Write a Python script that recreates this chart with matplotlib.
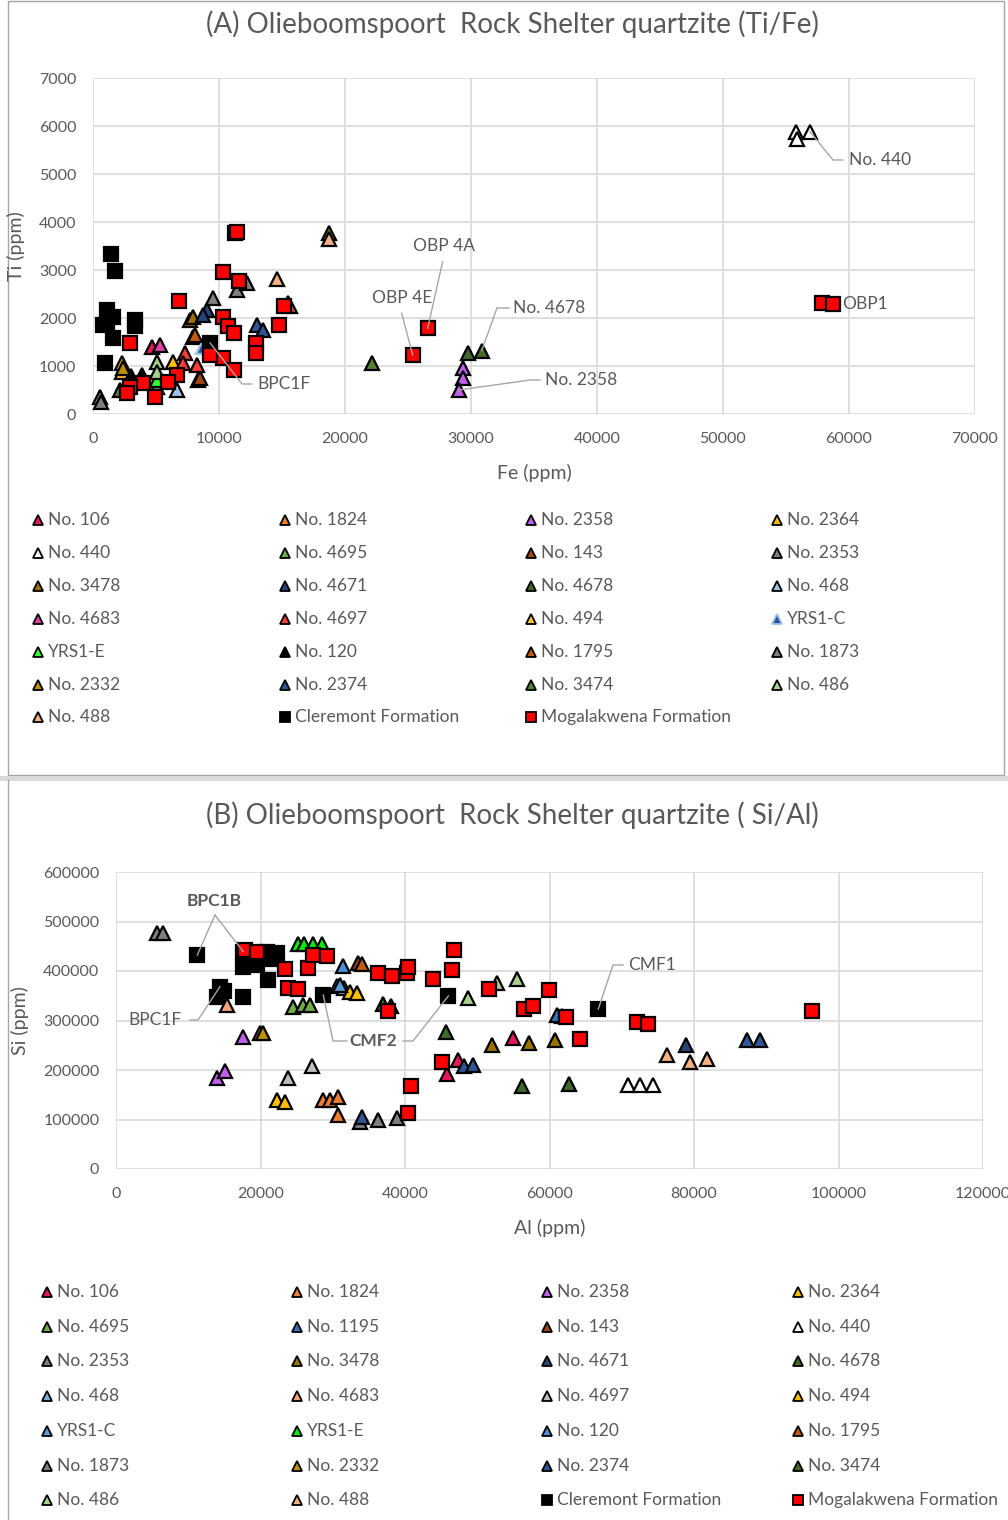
import matplotlib.pyplot as plt
from matplotlib.patches import Rectangle

plt.rcParams['font.family'] = ['Lato', 'DejaVu Sans']

# ---------------------------------------------------------------
# (A) Ti vs Fe, ppm
# ---------------------------------------------------------------
a_names = ["No. 106", "No. 1824", "No. 2358", "No. 2364", "No. 440", "No. 4695",
           "No. 143", "No. 2353", "No. 3478", "No. 4671", "No. 4678", "No. 468",
           "No. 4683", "No. 4697", "No. 494", "YRS1-C", "YRS1-E", "No. 120",
           "No. 1795", "No. 1873", "No. 2332", "No. 2374", "No. 3474", "No. 486",
           "No. 488", "Cleremont Formation", "Mogalakwena Formation"]

a_fe = [[4650], [7960, 15500], [29340, 29340, 29020], [6370, 2270],
        [55770, 55850, 56900], [5050], [8360, 8500], [555, 600],
        [7700, 7960, 18750], [9020, 8760], [29790, 30850], [6640],
        [5320], [7300, 7170, 8230], [2270], [8760], [5050], [3860, 3000],
        [8100, 15600], [9550, 11400, 12200], [2400], [12990, 13520],
        [22110, 2140], [5050, 5050], [18750, 14580],
        [1430, 1750, 1090, 1600, 800, 1100, 1590, 3330, 3330, 950, 9290],
        [11270, 11450, 10340, 11590, 6850, 15190, 10340, 10690, 11190, 14760,
         12940, 12940, 10340, 9290, 11220, 2940, 6640, 3990, 2940, 2670, 4920,
         5950, 25370, 26560, 57830, 58700]]

a_ti = [[1403], [1611, 2306], [951, 743, 500], [1090, 1056],
        [5882, 5722, 5882], [569], [708, 760], [361, 257],
        [1958, 2028, 3780], [2167, 2063], [1278, 1319], [500],
        [1438], [1264, 1056, 1021], [882], [1403], [708], [810, 790],
        [1650, 2250], [2410, 2583, 2722], [950], [1854, 1750],
        [1056, 500], [1090, 882], [3650, 2806],
        [3333, 2985, 2170, 2030, 1850, 1880, 1580, 1950, 1830, 1060, 1480],
        [3764, 3800, 2965, 2771, 2361, 2250, 2028, 1833, 1680, 1854,
         1472, 1264, 1160, 1229, 917, 1486, 813, 653, 556, 431, 347,
         674, 1229, 1785, 2306, 2292]]

# ---------------------------------------------------------------
# (B) Si vs Al, ppm
# ---------------------------------------------------------------
b_names = ["No. 106", "No. 1824", "No. 2358", "No. 2364", "No. 4695", "No. 1195",
           "No. 143", "No. 440", "No. 2353", "No. 3478", "No. 4671", "No. 4678",
           "No. 468", "No. 4683", "No. 4697", "No. 494", "YRS1-C", "YRS1-E",
           "No. 120", "No. 1795", "No. 1873", "No. 2332", "No. 2374", "No. 3474",
           "No. 486", "No. 488", "Cleremont Formation", "Mogalakwena Formation"]

b_al = [[47380, 45860, 54990], [28690, 29610, 30770, 30770],
        [17620, 13930, 15090], [22240, 23390], [24540, 25920, 26840],
        [61690, 61000], [33540], [70900, 72530, 74370], [5630, 6550],
        [52080, 57160, 60760], [78890], [45670, 56150, 62740],
        [30540, 31500], [15320], [23850, 27080], [32390, 33310], [31000],
        [25230, 25990, 27310, 28460], [31370], [34000],
        [33770, 36310, 38840], [19930, 20400],
        [48170, 49460, 87290, 89130, 34010], [37000, 38000],
        [48780, 55540, 52700], [76220, 79450, 81760],
        [11250, 17620, 20850, 22240, 17620, 19470, 21080, 14390, 13930,
         17620, 28690, 46000, 66750, 19000, 21500, 18500, 15000],
        [17850, 19470, 23390, 26620, 23850, 25230, 27310, 29160, 36310,
         38150, 40220, 40450, 43910, 46450, 46780, 37680, 45070, 40770,
         40360, 51670, 56460, 57750, 59960, 62280, 64220, 72070, 73670,
         96290]]

b_si = [[220200, 191900, 264000], [139400, 139400, 146100, 109100],
        [267300, 183200, 198600], [139400, 136000], [327900, 331300, 331300],
        [309700, 311000], [416800], [169700, 169700, 169700], [476200, 477400],
        [250500, 253900, 260600], [250500], [277400, 168300, 171700],
        [369700, 366000], [331300], [183200, 208100], [358200, 354900], [372000],
        [454500, 455000, 454500, 454000], [410100], [414000],
        [95600, 99000, 102400], [274700, 275500],
        [208100, 210100, 260600, 260600, 105700], [333300, 330000],
        [344800, 383800, 375100], [230300, 216800, 221600],
        [432300, 439000, 439000, 435700, 408700, 412100, 381800, 368300, 348100,
         348100, 351500, 349500, 323200, 425000, 425000, 420000, 360000],
        [442400, 439000, 403400, 406700, 365000, 363000, 432300, 430300, 395300,
         389900, 395300, 408700, 383200, 402000, 442400, 318800, 215600, 167700,
         113700, 363600, 323200, 329300, 361600, 307700, 262600, 297600, 292900,
         319200]]

# marker face colours for each panel
a_colors = {"No. 106": "#E8175D", "No. 1824": "#ED7D31", "No. 2358": "#BF5FEA",
            "No. 2364": "#FFC000", "No. 440": "white", "No. 4695": "#70AD47",
            "No. 143": "#9E480E", "No. 2353": "#7F7F7F", "No. 3478": "#997300",
            "No. 4671": "#264478", "No. 4678": "#43682B", "No. 468": "#9DC3E6",
            "No. 4683": "#E040A8", "No. 4697": "#FF3B3B", "No. 494": "#FFC23A",
            "YRS1-C": "#2F5597", "YRS1-E": "#33FF33", "No. 120": "black",
            "No. 1795": "#C55A11", "No. 1873": "#808080", "No. 2332": "#BF9000",
            "No. 2374": "#2F5597", "No. 3474": "#548235", "No. 486": "#A9D18E",
            "No. 488": "#F4B183", "Cleremont Formation": "black",
            "Mogalakwena Formation": "#FF0000"}
b_colors = {"No. 106": "#E8175D", "No. 1824": "#ED7D31", "No. 2358": "#BF5FEA",
            "No. 2364": "#FFC000", "No. 4695": "#70AD47", "No. 1195": "#2E75B6",
            "No. 143": "#9E480E", "No. 440": "white", "No. 2353": "#7F7F7F",
            "No. 3478": "#997300", "No. 4671": "#264478", "No. 4678": "#43682B",
            "No. 468": "#7CAFDD", "No. 4683": "#F4A27A", "No. 4697": "#BFBFBF",
            "No. 494": "#FFC000", "YRS1-C": "#5B9BD5", "YRS1-E": "#00EE00",
            "No. 120": "#4A90D9", "No. 1795": "#C55A11", "No. 1873": "#7F7F7F",
            "No. 2332": "#BF9000", "No. 2374": "#2F5597", "No. 3474": "#43682B",
            "No. 486": "#A9D18E", "No. 488": "#F4B183", "Cleremont Formation": "black",
            "Mogalakwena Formation": "#FF0000"}
edge_override = {"A": {"YRS1-C": "#9DC3E6"}, "B": {}}

TXT = "#595959"
GRID = "#D9D9D9"
W, H = 1008, 1520

fig = plt.figure(figsize=(W / 100, H / 100), dpi=100)

# background layer in pixel coordinates (frames, legends)
deco = fig.add_axes([0, 0, 1, 1], zorder=-1)
deco.set_xlim(0, W)
deco.set_ylim(H, 0)
deco.axis("off")
deco.add_patch(Rectangle((8, 1), 996, 774, fill=False, ec="#A6A6A6", lw=1))
deco.plot([0, W], [778, 778], color="#D9D9D9", lw=3.5)
deco.plot([8, 8], [780, H], color="#A6A6A6", lw=1)


def pix_axes(x0, y0, x1, y1):
    return fig.add_axes([x0 / W, 1 - y1 / H, (x1 - x0) / W, (y1 - y0) / H])


def style(ax):
    for s in ax.spines.values():
        s.set_visible(False)
    ax.set_axisbelow(True)
    ax.grid(True, color=GRID, lw=1.2)
    ax.tick_params(length=0, colors=TXT, labelsize=11.5)
    ax.tick_params(axis="y", pad=12)
    ax.tick_params(axis="x", pad=13)


def scatter(ax, names, xs, ys, colors, panel):
    for name, x, y in zip(names, xs, ys):
        square = "Formation" in name
        ax.plot(x, y, ls="none", marker="s" if square else "^",
                ms=10 if square else 9.8, mfc=colors[name],
                mec=edge_override[panel].get(name, "black"),
                mew=1.6, clip_on=False)


def legend(names, colors, panel, xs, ys):
    for i, name in enumerate(names):
        px, py = xs[i % 4], ys[i // 4]
        square = "Formation" in name
        deco.plot(px, py, ls="none", marker="s" if square else "^", ms=7,
                  mfc=colors[name], mec=edge_override[panel].get(name, "black"),
                  mew=1.3)
        deco.text(px + 10, py, name, color=TXT, fontsize=12.5, va="center",
                  ha="left")


def leader(ax, pt, path, text, text_xy, ha="left", bold=False):
    xs = [p[0] for p in path] + [pt[0]]
    ys = [p[1] for p in path] + [pt[1]]
    ax.plot(xs, ys, color="#A6A6A6", lw=1, zorder=5, clip_on=False)
    ax.text(text_xy[0], text_xy[1], text, color=TXT, fontsize=12.5, ha=ha,
            va="center", fontweight="bold" if bold else "normal", zorder=6)


# ---------------- panel A ----------------
ax_a = pix_axes(93, 78, 975, 414)
style(ax_a)
ax_a.set_xlim(0, 70000)
ax_a.set_ylim(0, 7000)
ax_a.set_xticks(range(0, 70001, 10000))
ax_a.set_yticks(range(0, 7001, 1000))
scatter(ax_a, a_names, a_fe, a_ti, a_colors, "A")
ax_a.set_xlabel("Fe (ppm)", color=TXT, fontsize=14, labelpad=13)
ax_a.set_ylabel("Ti (ppm)", color=TXT, fontsize=14)
ax_a.yaxis.set_label_coords(-0.077, 0.5)
deco.text(512, 24, "(A) Olieboomspoort  Rock Shelter quartzite (Ti/Fe)",
          color=TXT, fontsize=20, ha="center", va="center")

mog_a = (a_fe[-1], a_ti[-1])
cle_a = (a_fe[-2], a_ti[-2])
i440 = a_names.index("No. 440")
i4678 = a_names.index("No. 4678")
i2358 = a_names.index("No. 2358")
leader(ax_a, (a_fe[i440][2], a_ti[i440][2]), [(59500, 5292), (58730, 5292)],
       "No. 440", (60000, 5292))
ax_a.text(59440, 2300, "OBP1", color=TXT, fontsize=12.5, va="center")
leader(ax_a, (mog_a[0][23], mog_a[1][23]), [(27750, 3173)], "OBP 4A", (25400, 3500))
leader(ax_a, (mog_a[0][22], mog_a[1][22]), [(24500, 2098)], "OBP 4E", (22140, 2417))
leader(ax_a, (a_fe[i4678][1], a_ti[i4678][1]), [(33020, 2208), (32060, 2208)],
       "No. 4678", (33330, 2208))
leader(ax_a, (a_fe[i2358][2], a_ti[i2358][2]), [(35480, 708), (34680, 708)],
       "No. 2358", (35870, 708))
leader(ax_a, (cle_a[0][10], cle_a[1][10]), [(12620, 625), (11830, 625)],
       "BPC1F", (13020, 625))

legend(a_names, a_colors, "A", [38, 285, 531, 777],
       [520, 553, 586, 619, 652, 685, 717])

# ---------------- panel B ----------------
ax_b = pix_axes(116, 872, 983, 1169)
style(ax_b)
ax_b.set_xlim(0, 120000)
ax_b.set_ylim(0, 600000)
ax_b.set_xticks(range(0, 120001, 20000))
ax_b.set_yticks(range(0, 600001, 100000))
scatter(ax_b, b_names, b_al, b_si, b_colors, "B")
ax_b.set_xlabel("Al (ppm)", color=TXT, fontsize=14, labelpad=13)
ax_b.set_ylabel("Si (ppm)", color=TXT, fontsize=14)
ax_b.yaxis.set_label_coords(-0.1, 0.5)
deco.text(512, 815, "(B) Olieboomspoort  Rock Shelter quartzite ( Si/Al)",
          color=TXT, fontsize=20, ha="center", va="center")

cle_b = (b_al[-2], b_si[-2])
leader(ax_b, (cle_b[0][0], cle_b[1][0]), [(13700, 513100)], "BPC1B",
       (13560, 541400), ha="center", bold=True)
ax_b.plot([13700, cle_b[0][1]], [513100, cle_b[1][1]], color="#A6A6A6", lw=1,
          zorder=5)
leader(ax_b, (cle_b[0][7], cle_b[1][7]), [(10240, 301000), (11350, 301000)],
       "BPC1F", (9130, 301000), ha="right")
leader(ax_b, (cle_b[0][10], cle_b[1][10]), [(31970, 258600), (30030, 258600)],
       "CMF2", (35570, 258600), ha="center", bold=True)
ax_b.plot([39720, 41110, cle_b[0][11]], [258600, 258600, cle_b[1][11]],
          color="#A6A6A6", lw=1, zorder=5)
leader(ax_b, (cle_b[0][12], cle_b[1][12]), [(70170, 412100), (68790, 412100)],
       "CMF1", (70860, 412100))

legend(b_names, b_colors, "B", [47, 297, 547, 798],
       [1292, 1327, 1361, 1396, 1431, 1466, 1500])

fig.savefig("out.png", dpi=100)
